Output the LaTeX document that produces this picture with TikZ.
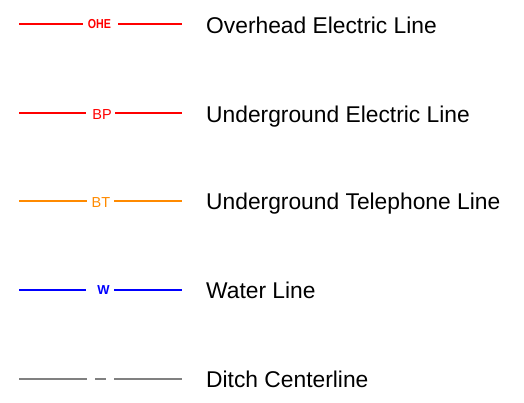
\documentclass[tikz,border=0pt]{standalone}
\usepackage{fontspec}
\setmainfont{Liberation Sans}
\begin{document}
\begin{tikzpicture}[x=1pt,y=-1pt,
  legendtext/.style={anchor=base west,inner sep=0pt,font=\fontsize{22.8}{26}\selectfont,text=black},
  tag/.style={anchor=base,inner sep=0pt,font=\fontsize{14.5}{16}\selectfont},
  seg/.style={line width=1.5pt},
  redline/.style={seg,draw={rgb,255:red,255;green,0;blue,0}},
  orangeline/.style={seg,draw={rgb,255:red,255;green,138;blue,0}},
  blueline/.style={seg,draw={rgb,255:red,0;green,0;blue,255}},
  grayline/.style={line width=2pt,draw={rgb,255:red,128;green,128;blue,128}}]
\useasboundingbox (0,0) rectangle (524,402);
\definecolor{lred}{RGB}{255,0,0}
\definecolor{lorange}{RGB}{255,138,0}
\definecolor{lblue}{RGB}{0,0,255}

% Overhead electric
\coordinate (a1) at (19,24); \coordinate (a2) at (83,24);
\coordinate (a3) at (118,24); \coordinate (a4) at (182,24);
\draw[redline] (a1) -- (a2) (a3) -- (a4);
\node[tag,text=lred,font=\fontsize{13}{14}\selectfont\bfseries,xscale=0.82] (ta) at (99.5,28.5) {OHE};
\node[legendtext] (la) at (206,33) {Overhead Electric Line};

% Underground electric
\coordinate (b1) at (19,113); \coordinate (b2) at (86,113);
\coordinate (b3) at (115,113); \coordinate (b4) at (182,113);
\draw[redline] (b1) -- (b2) (b3) -- (b4);
\node[tag,text=lred] (tb) at (102,119) {BP};
\node[legendtext] (lb) at (206,122) {Underground Electric Line};

% Underground telephone
\coordinate (c1) at (19,201); \coordinate (c2) at (87,201);
\coordinate (c3) at (114,201); \coordinate (c4) at (182,201);
\draw[orangeline] (c1) -- (c2) (c3) -- (c4);
\node[tag,text=lorange] (tc) at (101,207) {BT};
\node[legendtext] (lc) at (206,209) {Underground Telephone Line};

% Water
\coordinate (d1) at (19,290); \coordinate (d2) at (86,290);
\coordinate (d3) at (114,290); \coordinate (d4) at (182,290);
\draw[blueline] (d1) -- (d2) (d3) -- (d4);
\node[tag,text=lblue,font=\fontsize{13}{14}\selectfont\bfseries] (td) at (103.5,294.5) {W};
\node[legendtext] (ld) at (206,298) {Water Line};

% Ditch centerline
\coordinate (e1) at (19,379); \coordinate (e2) at (87,379);
\coordinate (e3) at (95,379); \coordinate (e4) at (106,379);
\coordinate (e5) at (114,379); \coordinate (e6) at (182,379);
\draw[grayline] (e1) -- (e2) (e3) -- (e4) (e5) -- (e6);
\node[legendtext] (le) at (206,387) {Ditch Centerline};
\end{tikzpicture}
\end{document}
